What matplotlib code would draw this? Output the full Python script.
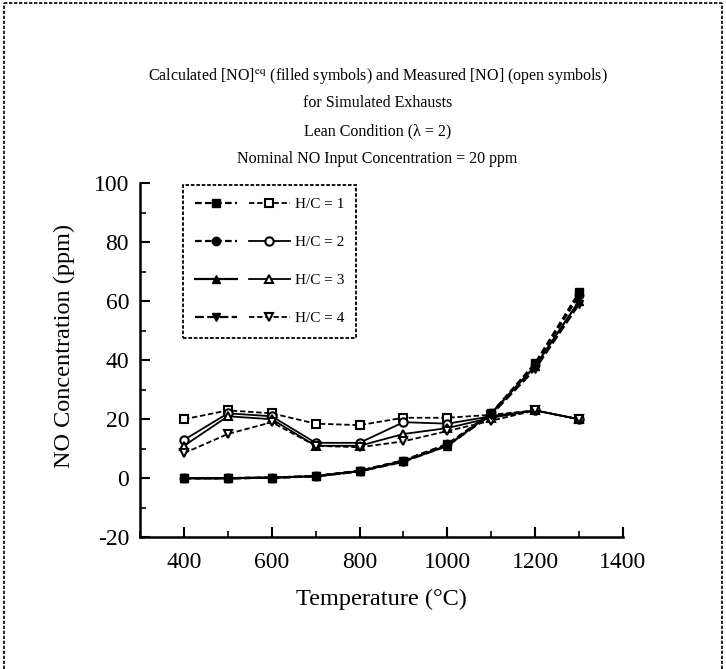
import matplotlib
matplotlib.use("Agg")
import matplotlib.pyplot as plt
from matplotlib.lines import Line2D
from matplotlib.legend_handler import HandlerTuple
from matplotlib.ticker import MultipleLocator

plt.rcParams['font.family'] = ['Liberation Serif', 'DejaVu Serif']
plt.rcParams['mathtext.fontset'] = 'stix'
plt.rcParams['axes.unicode_minus'] = False

temperature = [400, 500, 600, 700, 800, 900, 1000, 1100, 1200, 1300]

# Calculated equilibrium [NO] (filled symbols)
calc_hc1 = [0, 0, 0.2, 0.7, 2.5, 6.0, 11.5, 22.0, 39.0, 63.0]
calc_hc2 = [0, 0, 0.2, 0.7, 2.5, 6.0, 11.5, 22.0, 38.5, 62.0]
calc_hc3 = [0, 0, 0.2, 0.7, 2.4, 5.8, 11.0, 22.0, 38.0, 60.0]
calc_hc4 = [0, 0, 0.2, 0.6, 2.3, 5.6, 11.0, 21.5, 37.0, 59.0]

# Measured [NO] (open symbols)
meas_hc1 = [20.0, 23.0, 22.0, 18.5, 18.0, 20.5, 20.5, 21.5, 23.0, 20.0]
meas_hc2 = [13.0, 22.0, 21.0, 12.0, 12.0, 19.0, 18.5, 21.0, 23.0, 20.0]
meas_hc3 = [11.0, 21.0, 20.0, 11.0, 11.0, 15.0, 17.0, 20.5, 23.0, 20.0]
meas_hc4 = [8.5, 15.0, 19.0, 11.0, 10.5, 12.5, 16.0, 19.5, 23.0, 20.0]

legend_labels = ["H/C = 1", "H/C = 2", "H/C = 3", "H/C = 4"]
markers = ['s', 'o', '^', 'v']
calc_styles = [(0, (3, 1.5)), (0, (3, 1.5)), '-', (0, (4, 1.5))]
meas_styles = [(0, (3, 1.5)), '-', '-', (0, (3, 1.5))]

fig = plt.figure(figsize=(7.26, 6.69), dpi=100)
ax = fig.add_axes([0.193, 0.197, 0.665, 0.529])

calc_all = [calc_hc1, calc_hc2, calc_hc3, calc_hc4]
meas_all = [meas_hc1, meas_hc2, meas_hc3, meas_hc4]

handles = []
for i in range(4):
    (hm,) = ax.plot(temperature, meas_all[i], linestyle=meas_styles[i], color='black',
                    lw=1.3, marker=markers[i], markersize=6, markerfacecolor='white',
                    markeredgecolor='black', markeredgewidth=1.5, zorder=3)
    (hc,) = ax.plot(temperature, calc_all[i], linestyle=calc_styles[i], color='black',
                    lw=1.6, marker=markers[i], markersize=6, markerfacecolor='black',
                    markeredgecolor='black', zorder=4)
    handles.append((hc, hm))

ax.set_xlim(300, 1400)
ax.set_ylim(-20, 100)
ax.xaxis.set_minor_locator(MultipleLocator(100))
ax.yaxis.set_major_locator(MultipleLocator(20))
ax.yaxis.set_minor_locator(MultipleLocator(10))
ax.set_xticks([400, 600, 800, 1000, 1200, 1400])

for side in ['top', 'right']:
    ax.spines[side].set_visible(False)
for side in ['left', 'bottom']:
    ax.spines[side].set_linewidth(1.8)

ax.tick_params(which='major', direction='in', length=7, width=1.5, labelsize=17)
ax.tick_params(axis='x', which='major', pad=11)
ax.tick_params(axis='y', which='major', pad=8)
ax.tick_params(which='minor', direction='in', length=4, width=1.2)

ax.set_xlabel("Temperature (\u00b0C)", fontsize=17.5, labelpad=11)
ax.set_ylabel("NO Concentration (ppm)", fontsize=17.5, labelpad=6)
ax.yaxis.set_label_coords(-0.135, 0.54)

leg = ax.legend(handles, legend_labels,
                handler_map={tuple: HandlerTuple(ndivide=None, pad=0.8)},
                loc='upper left', bbox_to_anchor=(0.089, 0.995), fontsize=11,
                handlelength=6.2, handletextpad=0.3, labelspacing=1.6,
                borderpad=0.8, fancybox=False, framealpha=1,
                edgecolor='black', borderaxespad=0)
leg.get_frame().set_linewidth(1.3)
leg.get_frame().set_linestyle((0, (2, 1)))

title_lines = [
    "Calculated [NO]$^{\\mathrm{eq}}$ (filled symbols) and Measured [NO] (open symbols)",
    "for Simulated Exhausts",
    "Lean Condition (\u03bb = 2)",
    "Nominal NO Input Concentration = 20 ppm",
]
title_y = [0.887, 0.846, 0.804, 0.763]
for txt, yy in zip(title_lines, title_y):
    fig.text(0.52, yy, txt, ha='center', va='center', fontsize=11.5)

# Page frame
frame_kw = dict(color='black', lw=1.2, linestyle=(0, (2, 1)))
fig.add_artist(Line2D([0.005, 0.005], [0.0, 0.995], transform=fig.transFigure, **frame_kw))
fig.add_artist(Line2D([0.005, 0.995], [0.995, 0.995], transform=fig.transFigure, **frame_kw))
fig.add_artist(Line2D([0.995, 0.995], [0.0, 0.995], transform=fig.transFigure, **frame_kw))

fig.savefig("out.png", dpi=100)
